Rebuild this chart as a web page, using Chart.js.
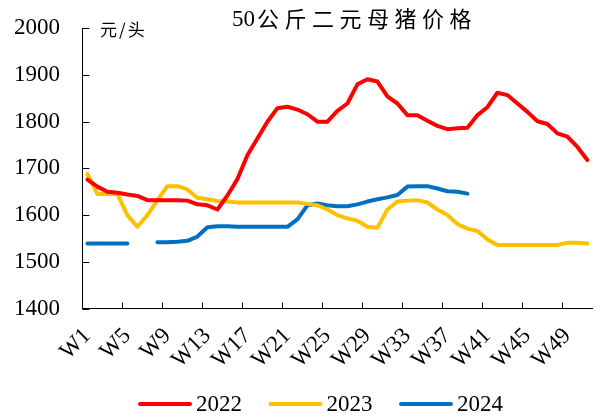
<!DOCTYPE html>
<html>
<head>
<meta charset="utf-8">
<script src="https://cdn.jsdelivr.net/npm/chart.js@4/dist/chart.umd.min.js"></script>
<style>
  html, body { margin: 0; padding: 0; background: #fff; }
  #wrap { width: 595px; height: 417px; }
</style>
</head>
<body>
<div id="wrap"><canvas id="c" width="595" height="417"></canvas></div>
<script>
// 周次
const weeks = Array.from({ length: 51 }, (_, i) => 'W' + (i + 1));

// 50公斤二元母猪价格 (元/头)
const price2022 = [1676, 1661, 1650, 1648, 1644, 1641, 1632, 1632, 1632, 1632, 1631, 1623, 1621, 1612, 1642,
  1677, 1728, 1764, 1800, 1829, 1832, 1826, 1816, 1800, 1800, 1823, 1839, 1880, 1891, 1886, 1854, 1839, 1814,
  1814, 1802, 1791, 1784, 1786, 1787, 1814, 1831, 1862, 1857, 1839, 1821, 1801, 1795, 1775, 1768, 1746, 1718];
const price2023 = [1688, 1645, 1645, 1645, 1600, 1575, 1600, 1632, 1662, 1662, 1655, 1637, 1634, 1630, 1629,
  1627, 1627, 1627, 1627, 1627, 1627, 1627, 1624, 1621, 1612, 1600, 1593, 1588, 1575, 1573, 1612, 1629, 1631,
  1632, 1627, 1612, 1600, 1581, 1571, 1566, 1548, 1536, 1536, 1536, 1536, 1536, 1536, 1536, 1541, 1541, 1539];
const price2024 = [1539, 1539, 1539, 1539, 1539, null, null, 1542, 1542, 1543, 1545, 1554, 1574, 1576, 1576,
  1575, 1575, 1575, 1575, 1575, 1575, 1591, 1621, 1625, 1621, 1619, 1619, 1623, 1629, 1634, 1638, 1643, 1661,
  1662, 1662, 1657, 1651, 1650, 1646];

const seriesNames = ['2022', '2023', '2024'];
const seriesColors = ['#FF0000', '#FFC000', '#0070C0'];

const serif = '"Liberation Serif", "Times New Roman", serif';
const cjk = '"Noto Sans CJK SC", sans-serif';

// 标题、单位、图例和朝内的刻度线
const decorations = {
  id: 'decorations',
  afterDraw(chart) {
    const { ctx, chartArea, scales } = chart;
    const x = scales.x, y = scales.y;
    ctx.save();
    ctx.strokeStyle = '#000';
    ctx.lineWidth = 1;
    ctx.beginPath();
    y.ticks.forEach(t => {
      const py = Math.round(y.getPixelForValue(t.value)) + 0.5;
      ctx.moveTo(chartArea.left, py);
      ctx.lineTo(chartArea.left + 7, py);
    });
    for (let k = 4; k < weeks.length; k += 4) {
      const px = Math.round((x.getPixelForValue(k - 1) + x.getPixelForValue(k)) / 2) + 0.5;
      ctx.moveTo(px, chartArea.bottom);
      ctx.lineTo(px, chartArea.bottom - 6);
    }
    ctx.stroke();

    ctx.fillStyle = '#000';
    ctx.textBaseline = 'middle';
    ctx.textAlign = 'left';
    ctx.font = '23px ' + serif;
    ctx.fillText('50', 232, 20);
    const w50 = ctx.measureText('50').width;
    ctx.font = '22px ' + cjk;
    ctx.letterSpacing = '5.5px';
    ctx.fillText('公斤二元母猪价格', 232 + w50 + 2, 19);
    ctx.font = '17px ' + cjk;
    ctx.letterSpacing = '2px';
    ctx.fillText('元/头', 100, 30);
    ctx.letterSpacing = '0px';

    // 图例
    ctx.lineCap = 'round';
    ctx.lineWidth = 4;
    ctx.font = '23px ' + serif;
    chart.data.datasets.forEach((ds, i) => {
      const x0 = 140 + i * 130.5;
      ctx.strokeStyle = ds.borderColor;
      ctx.beginPath();
      ctx.moveTo(x0, 404);
      ctx.lineTo(x0 + 50, 404);
      ctx.stroke();
      ctx.fillText(ds.label, x0 + 56, 405);
    });
    ctx.restore();
  }
};

new Chart(document.getElementById('c'), {
  type: 'line',
  data: {
    labels: weeks,
    datasets: [price2022, price2023, price2024].map((d, i) => ({
      label: seriesNames[i],
      data: d,
      borderColor: seriesColors[i],
      backgroundColor: seriesColors[i],
      borderWidth: 4,
      pointRadius: 0,
      tension: 0,
      spanGaps: false,
      borderCapStyle: 'round',
      borderJoinStyle: 'round'
    }))
  },
  options: {
    responsive: false,
    animation: false,
    layout: { padding: { left: 14, right: 2.6, top: 28.3, bottom: 48 } },
    plugins: {
      legend: { display: false },
      tooltip: { enabled: false }
    },
    scales: {
      x: {
        offset: true,
        grid: { display: false },
        border: { display: true, color: '#000', width: 1 },
        ticks: {
          autoSkip: false,
          maxRotation: 45,
          minRotation: 45,
          padding: 6,
          color: '#000',
          font: { family: serif, size: 23 },
          callback: (v, i) => (i % 4 === 0 ? weeks[i] : null)
        },
        afterFit: s => { s.height = 60.5; }
      },
      y: {
        min: 1400,
        max: 2000,
        grid: { display: false },
        border: { display: true, color: '#000', width: 1 },
        ticks: {
          stepSize: 100,
          padding: 0,
          crossAlign: 'far',
          color: '#000',
          font: { family: serif, size: 23 },
          callback: v => String(v)
        },
        afterFit: s => { s.width = 68.4; }
      }
    }
  },
  plugins: [decorations]
});
</script>
</body>
</html>
